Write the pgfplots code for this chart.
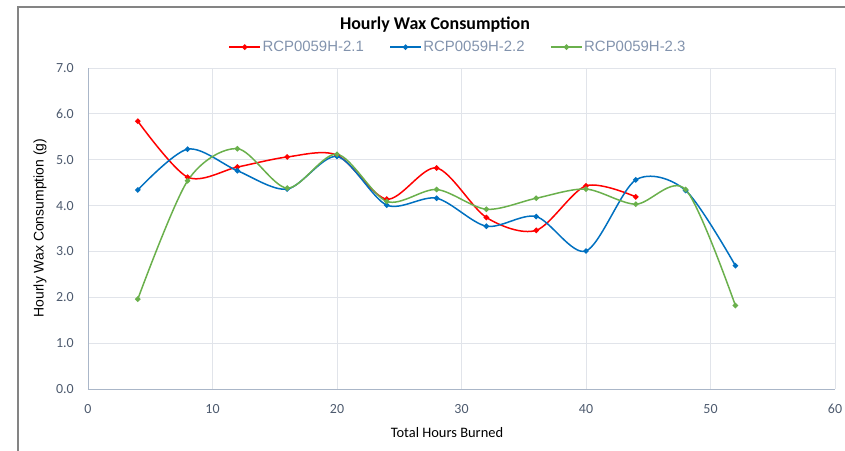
\documentclass[border=0pt]{standalone}
\usepackage{fontspec}
\setmainfont{Carlito}
\newfontfamily\arialf{Liberation Sans}
\usepackage{pgfplots}
\pgfplotsset{compat=1.18}
\definecolor{cred}{HTML}{FF0000}
\definecolor{cblue}{HTML}{0070C0}
\definecolor{cgreen}{HTML}{6AB04C}
\definecolor{gridc}{HTML}{E1E4EA}
\definecolor{axisc}{HTML}{AAB6C8}
\definecolor{tickc}{HTML}{4D5A6E}
\definecolor{legc}{HTML}{8293AD}
\definecolor{framec}{HTML}{848484}
\begin{document}
\begin{tikzpicture}[x=1bp,y=1bp]
\useasboundingbox (-88bp,-62bp) rectangle (757bp,389bp);
\draw[framec, line width=2bp] (-70bp,-70bp) -- (-70bp,382bp) -- (770bp,382bp);
\begin{axis}[
  scale only axis, width=747bp, height=321bp,
  xmin=0, xmax=60, ymin=0, ymax=7,
  xtick distance=10, ytick distance=1,
  axis lines=left, axis line style={axisc, line width=0.8bp, -},
  grid=major, major grid style={gridc, line width=0.8bp},
  major tick length=0pt,
  tick label style={font=\fontsize{14}{16}\selectfont, text=tickc},
  yticklabel style={anchor=east, inner sep=0pt, xshift=-14bp, /pgf/number format/.cd, fixed, fixed zerofill, precision=1},
  xticklabel style={anchor=center, inner sep=0pt, yshift=-20bp},
  /pgf/number format/assume math mode=true,
  title={Hourly Wax Consumption},
  title style={at={(axis description cs:0.4645,1.118)}, anchor=center, font=\fontsize{18}{20}\selectfont\bfseries, inner sep=0pt},
  xlabel={Total Hours Burned},
  xlabel style={at={(axis description cs:0.4806,-0.137)}, anchor=center, font=\fontsize{14.5}{16}\selectfont, inner sep=0pt},
  ylabel={Hourly Wax Consumption (g)},
  ylabel style={at={(axis description cs:-0.0643,0.5016)}, anchor=center, font=\arialf\fontsize{14}{16}\selectfont, inner sep=0pt},
  legend columns=3,
  legend style={at={(axis description cs:0.495,1.065)}, anchor=center, draw=none, fill=none,
    font=\arialf\fontsize{15}{16}\selectfont, text=legc, inner sep=0pt,
    /tikz/every even column/.append style={column sep=24bp},
    nodes={inner sep=1.5bp}},
  legend image code/.code={\draw[#1, sharp plot] (0bp,0bp) -- (31bp,0bp); \fill[#1] (15.5bp,0bp) circle (1.9bp);},
  every axis plot/.append style={line width=1.5bp, smooth, mark=*, mark size=1.9bp},
  clip=false,
]
\addplot[cred, mark options={fill=cred, draw=cred}] coordinates {
(4,5.84) (8,4.62) (12,4.84) (16,5.06) (20,5.10) (24,4.14) (28,4.82) (32,3.74) (36,3.46) (40,4.43) (44,4.19)};
\addlegendentry{RCP0059H-2.1}
\addplot[cblue, mark options={fill=cblue, draw=cblue}] coordinates {
(4,4.34) (8,5.23) (12,4.76) (16,4.36) (20,5.07) (24,4.01) (28,4.16) (32,3.55) (36,3.76) (40,3.01) (44,4.56) (48,4.33) (52,2.69)};
\addlegendentry{RCP0059H-2.2}
\addplot[cgreen, mark options={fill=cgreen, draw=cgreen}] coordinates {
(4,1.96) (8,4.54) (12,5.24) (16,4.38) (20,5.12) (24,4.09) (28,4.35) (32,3.92) (36,4.16) (40,4.36) (44,4.03) (48,4.35) (52,1.82)};
\addlegendentry{RCP0059H-2.3}
\end{axis}
\end{tikzpicture}
\end{document}
